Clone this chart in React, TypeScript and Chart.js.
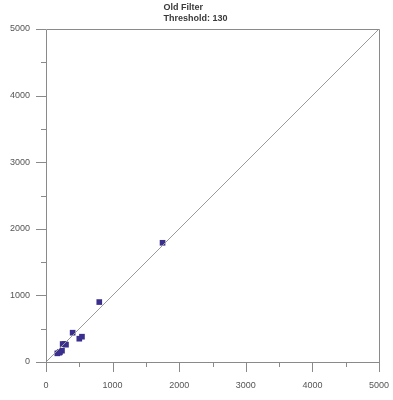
import React, { useEffect, useRef } from "react";
import { Chart, registerables } from "chart.js";
Chart.register(...registerables);

const titleLines = ["Old Filter", "Threshold: 130"];
const xValues = [1750, 800, 400, 500, 540, 250, 280, 300, 240, 210, 170, 200];
const yValues = [1790, 900, 440, 350, 380, 270, 270, 260, 170, 150, 130, 140];
const identityX = [0, 5000];
const identityY = [0, 5000];
const axisMin = 0;
const axisMax = 5000;
const majorStep = 1000;
const minorStep = 500;

const frameAndTicks = {
  id: "frameAndTicks",
  afterDraw(chart: any) {
    const { ctx, chartArea } = chart;
    const xs = chart.scales.x;
    const ys = chart.scales.y;
    ctx.save();
    ctx.strokeStyle = "#8a8a8a";
    ctx.lineWidth = 1;
    ctx.beginPath();
    ctx.rect(Math.round(chartArea.left) + 0.5, Math.round(chartArea.top) + 0.5,
      Math.round(chartArea.right - chartArea.left), Math.round(chartArea.bottom - chartArea.top));
    ctx.stroke();
    for (let v = axisMin; v <= axisMax; v += minorStep) {
      const major = v % majorStep === 0;
      const len = major ? 10 : 5;
      const px = Math.round(xs.getPixelForValue(v)) + 0.5;
      ctx.beginPath();
      ctx.moveTo(px, chartArea.bottom);
      ctx.lineTo(px, chartArea.bottom + len);
      ctx.stroke();
      const py = Math.round(ys.getPixelForValue(v)) + 0.5;
      ctx.beginPath();
      ctx.moveTo(chartArea.left, py);
      ctx.lineTo(chartArea.left - len, py);
      ctx.stroke();
    }
    ctx.fillStyle = "#3a3a3a";
    ctx.font = "bold 9px 'Liberation Sans', Arial, sans-serif";
    ctx.textAlign = "left";
    ctx.textBaseline = "middle";
    const tx = (chartArea.left + chartArea.right) / 2 - 49;
    ctx.fillText(titleLines[0], tx, 8);
    ctx.fillText(titleLines[1], tx, 19);
    ctx.restore();
  },
};

export default function App() {
  const ref = useRef<HTMLCanvasElement>(null);
  useEffect(() => {
    document.body.style.margin = "0";
    const chart = new Chart(ref.current!, {
      type: "scatter",
      data: {
        datasets: [
          {
            data: identityX.map((x, i) => ({ x, y: identityY[i] })),
            showLine: true,
            borderColor: "#9a9a9a",
            borderWidth: 1,
            pointRadius: 0,
          },
          {
            data: xValues.map((x, i) => ({ x, y: yValues[i] })),
            pointStyle: "rect",
            pointRadius: 4,
            backgroundColor: "#3b2f8e",
            borderColor: "#3b2f8e",
            borderWidth: 0,
          },
        ],
      } as any,
      plugins: [frameAndTicks],
      options: {
        animation: false,
        responsive: false,
        maintainAspectRatio: false,
        layout: { padding: { top: 29, right: 0, left: 0, bottom: 0 } },
        plugins: { legend: { display: false }, tooltip: { enabled: false }, title: { display: false } },
        scales: {
          x: {
            type: "linear",
            min: axisMin,
            max: axisMax,
            grid: { display: false },
            border: { display: false },
            ticks: {
              stepSize: majorStep,
              color: "#555",
              font: { family: "'Liberation Sans', Arial, sans-serif", size: 9 },
              padding: 10,
              maxRotation: 0,
              callback: (v: any) => String(v),
            },
            afterFit: (s: any) => { s.height = 38; s.paddingRight = 14; },
          },
          y: {
            type: "linear",
            min: axisMin,
            max: axisMax,
            grid: { display: false },
            border: { display: false },
            ticks: {
              stepSize: majorStep,
              color: "#555",
              font: { family: "'Liberation Sans', Arial, sans-serif", size: 9 },
              padding: 8,
              callback: (v: any) => String(v),
            },
            afterFit: (s: any) => { s.width = 46; },
          },
        },
      } as any,
    });
    return () => chart.destroy();
  }, []);
  return (
    <div style={{ width: 393, height: 400 }}>
      <canvas ref={ref} width={393} height={400} style={{ display: "block" }} />
    </div>
  );
}
